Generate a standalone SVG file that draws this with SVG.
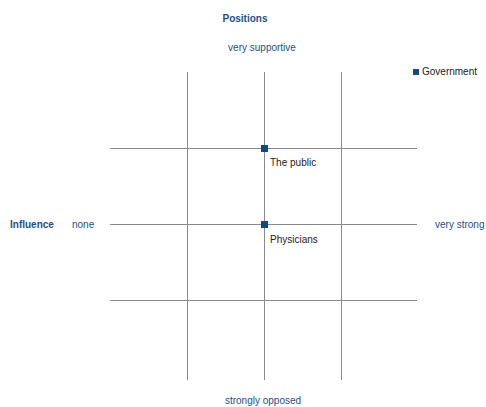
<svg xmlns="http://www.w3.org/2000/svg" width="486" height="407" viewBox="0 0 486 407">
<style>
text{font-family:"Liberation Sans",Arial,sans-serif;font-size:10px}
.b{fill:#1d4f8c}
.bb{fill:#1d4f8c;font-weight:bold}
.k{fill:#222}
.g line{stroke:#8a8a8a;stroke-width:1}
.m{fill:#0f4a87}
</style>
<rect width="486" height="407" fill="#fff"/>
<g id="connectors" class="g">
<line x1="187.5" y1="72" x2="187.5" y2="380"/>
<line x1="264.5" y1="72" x2="264.5" y2="380"/>
<line x1="341.5" y1="72" x2="341.5" y2="380"/>
<line x1="110" y1="148.5" x2="417" y2="148.5"/>
<line x1="110" y1="224.5" x2="417" y2="224.5"/>
<line x1="110" y1="300.5" x2="417" y2="300.5"/>
</g>
<g id="labels">
<text class="bb" x="245" y="22" text-anchor="middle">Positions</text>
<text class="b" x="262" y="51" text-anchor="middle">very supportive</text>
<text class="bb" x="10" y="228">Influence</text>
<text class="b" x="72" y="228">none</text>
<text class="b" x="435" y="228">very strong</text>
<text class="b" x="263" y="404" text-anchor="middle">strongly opposed</text>
</g>
<g id="government">
<rect class="m" x="413" y="69" width="6" height="6"/>
<text class="k" x="422" y="75">Government</text>
</g>
<g id="the-public">
<rect class="m" x="261" y="145" width="7" height="7"/>
<text class="k" x="270" y="166">The public</text>
</g>
<g id="physicians">
<rect class="m" x="261" y="221" width="7" height="7"/>
<text class="k" x="270" y="243">Physicians</text>
</g>
</svg>
